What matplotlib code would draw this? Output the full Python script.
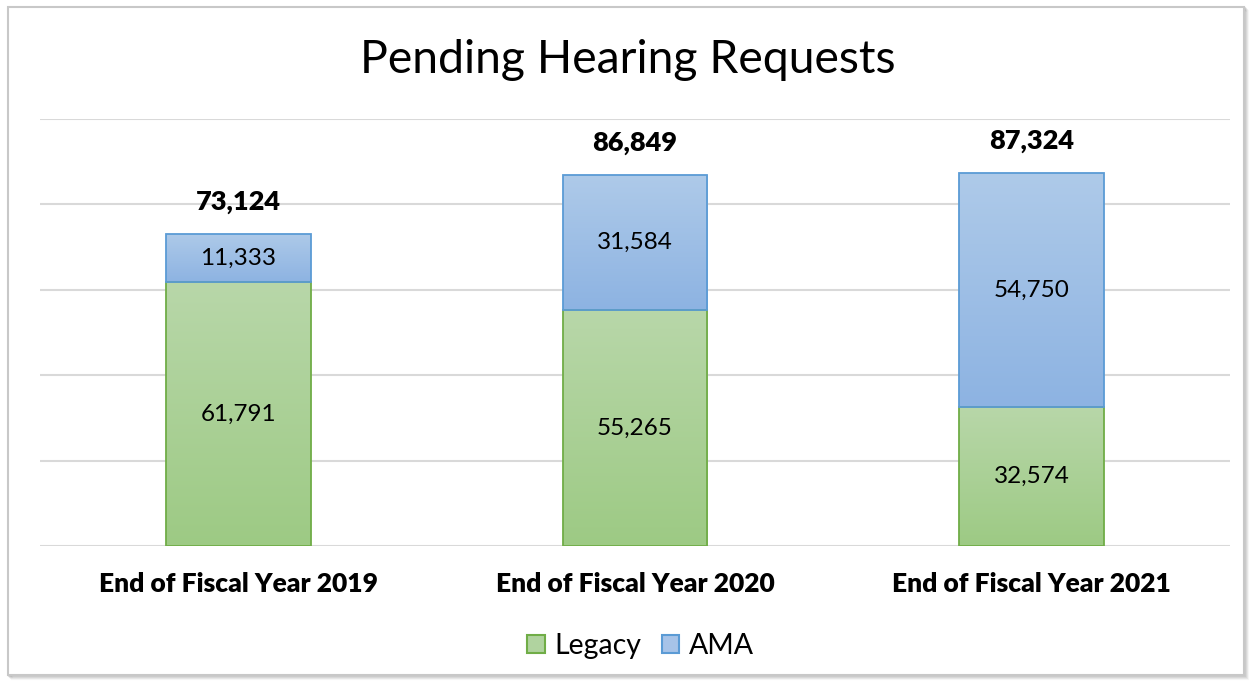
import numpy as np
import matplotlib.pyplot as plt
from matplotlib.patches import Rectangle
from matplotlib.colors import LinearSegmentedColormap

# Chart data
categories = ['End of Fiscal Year 2019', 'End of Fiscal Year 2020', 'End of Fiscal Year 2021']
legacy = [61791, 55265, 32574]
ama = [11333, 31584, 54750]
totals = [73124, 86849, 87324]

plt.rcParams['font.family'] = ['Lato', 'DejaVu Sans']

fig = plt.figure(figsize=(12.55, 6.84), dpi=100)
fig.patch.set_facecolor('white')

# Outer frame with a soft shadow
for k, a in enumerate([0.25, 0.18, 0.12, 0.07]):
    fig.add_artist(Rectangle(((9 + k) / 1255, (8 - k) / 684), 1236 / 1255, 668 / 684,
                             transform=fig.transFigure, fill=False,
                             edgecolor='#808080', alpha=a, lw=1.5, zorder=0))
fig.add_artist(Rectangle((8 / 1255, 9 / 684), 1236 / 1255, 668 / 684,
                         transform=fig.transFigure, facecolor='white',
                         edgecolor='#c8c8c8', lw=1.5, zorder=0.5))

ax = fig.add_axes([40 / 1255, 1 - 546 / 684, 1190 / 1255, 427 / 684])
ax.set_zorder(2)
ax.patch.set_visible(False)

x = np.arange(len(categories))
width = 0.365

green_cmap = LinearSegmentedColormap.from_list('g', ['#9dca84', '#b8d7a9'])
blue_cmap = LinearSegmentedColormap.from_list('b', ['#8db3e2', '#aecae9'])


def gradient_bars(bars, cmap, edge):
    # Fill each bar with a vertical gradient, clipped to the bar
    for b in bars:
        b.set_facecolor('none')
        b.set_edgecolor(edge)
        b.set_linewidth(1.3)
        b.set_zorder(3)
        x0, y0 = b.get_x(), b.get_y()
        w, h = b.get_width(), b.get_height()
        grad = np.linspace(0, 1, 256).reshape(-1, 1)
        im = ax.imshow(grad, cmap=cmap, extent=[x0, x0 + w, y0, y0 + h],
                       aspect='auto', origin='lower', zorder=2)
        im.set_clip_path(b)


b1 = ax.bar(x, legacy, width)
b2 = ax.bar(x, ama, width, bottom=legacy)
gradient_bars(b1, green_cmap, '#70ad47')
gradient_bars(b2, blue_cmap, '#5b9bd5')

# Segment labels
for i in range(len(categories)):
    ax.text(x[i], legacy[i] / 2, f'{legacy[i]:,}', ha='center', va='center',
            fontsize=17.5, zorder=5)
    ax.text(x[i], legacy[i] + ama[i] / 2, f'{ama[i]:,}', ha='center', va='center',
            fontsize=17.5, zorder=5)
    ax.annotate(f'{totals[i]:,}', (x[i], legacy[i] + ama[i]), xytext=(0, 23),
                textcoords='offset points', ha='center', va='center',
                fontsize=19.5, fontweight='heavy', zorder=5)

ax.set_xlim(-0.5, 2.5)
ax.set_ylim(0, 100000)
ax.set_yticks(np.arange(0, 100001, 20000))
ax.yaxis.grid(True, color='#d9d9d9', linewidth=1.5)
ax.set_axisbelow(True)
ax.tick_params(axis='y', left=False, labelleft=False)
ax.tick_params(axis='x', bottom=False, pad=15)
ax.set_xticks(x)
ax.set_xticklabels(categories, fontsize=19, fontweight='heavy')
for s in ax.spines.values():
    s.set_visible(False)

fig.text(0.5, 1 - 60 / 684, 'Pending Hearing Requests', ha='center', va='center',
         fontsize=33.4, zorder=3)

# Legend
handles = [Rectangle((0, 0), 1, 1, facecolor='#b0d39f', edgecolor='#70ad47', lw=1.5),
           Rectangle((0, 0), 1, 1, facecolor='#a7c3e8', edgecolor='#5b9bd5', lw=1.5)]
leg = fig.legend(handles, ['Legacy', 'AMA'], loc='center', bbox_to_anchor=(0.5104, 1 - 646 / 684),
                 ncol=2, frameon=False, fontsize=20.5, handlelength=0.62, handleheight=0.62,
                 handletextpad=0.35, columnspacing=0.7)
leg.set_zorder(3)

fig.savefig('out.png', dpi=100)
